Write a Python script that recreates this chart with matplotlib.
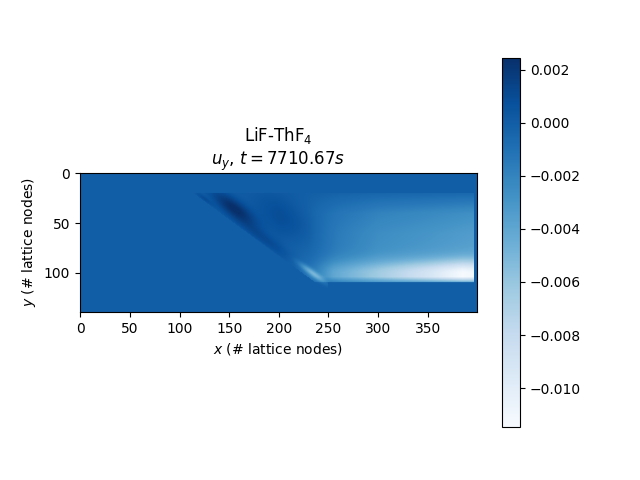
import numpy as np
import matplotlib
matplotlib.use('Agg')
import matplotlib.pyplot as plt

# lattice size
nx, ny = 400, 140
# colour limits
vmin, vmax = -0.01147, 0.00245

# slanted front: start and end node (x, y)
front_start = (117, 22)
front_end = (245, 116)
# top and bottom of the disturbed region
top_edge = 20
jet_bottom = 109

# broad negative region: value along x and weight along y
broad_x = [200, 230, 260, 300, 350, 395]
broad_val = [0.0, -0.0006, -0.0018, -0.0028, -0.0033, -0.0038]
broad_y = [20, 25, 40, 60, 85, 109]
broad_w = [0.15, 0.3, 0.7, 0.9, 1.0, 1.0]

# lower jet: extra value along x
jet_x = [215, 238, 255, 300, 350, 385, 396]
jet_val = [0.0, -0.0010, -0.0024, -0.0036, -0.0057, -0.0077, -0.0072]
jet_centre = 101

# patches near the front: (s, d, sigma_s, sigma_d, amplitude)
patches = [
    (38, 12, 25, 8, 0.00245),
    (85, 34, 35, 18, 0.0009),
    (78, 5, 35, 6, 0.0010),
    (8, 2, 10, 2, 0.0008),
    (140, 6, 15, 3, -0.0035),
]

X, Y = np.meshgrid(np.arange(nx), np.arange(ny))
dx = front_end[0] - front_start[0]
dy = front_end[1] - front_start[1]
L = np.hypot(dx, dy)
ux, uy = dx / L, dy / L
s = (X - front_start[0]) * ux + (Y - front_start[1]) * uy
d = (X - front_start[0]) * uy - (Y - front_start[1]) * ux

wedge = (d > 0) & (Y >= top_edge) & ((Y <= jet_bottom) | (X < 250))
upper = Y <= jet_bottom

field = np.zeros((ny, nx))
broad = np.interp(X, broad_x, broad_val) * np.interp(Y, broad_y, broad_w)
jprof = np.where(Y < jet_centre, np.exp(-((Y - jet_centre) / 13.0) ** 2), 1.0)
jprof = jprof * np.clip((jet_bottom + 1 - Y) / 6.0, 0, 1)
jet = np.interp(X, jet_x, jet_val, left=0.0, right=0.0) * jprof
field += np.where(upper, broad + jet, 0.0)
for ps, pd, ss, sd, amp in patches:
    field += amp * np.exp(-((s - ps) / ss) ** 2 - ((d - pd) / sd) ** 2)
field = np.where(wedge, field, 0.0)
field[:, 397:] = 0.0
field = np.clip(field, vmin, vmax)

plt.imshow(field, cmap='Blues', vmin=vmin, vmax=vmax)
plt.colorbar()
plt.title('LiF-ThF$_4$\n$u_y$, $t = 7710.67s$')
plt.xlabel('$x$ (# lattice nodes)')
plt.ylabel('$y$ (# lattice nodes)')
plt.savefig('out.png')
